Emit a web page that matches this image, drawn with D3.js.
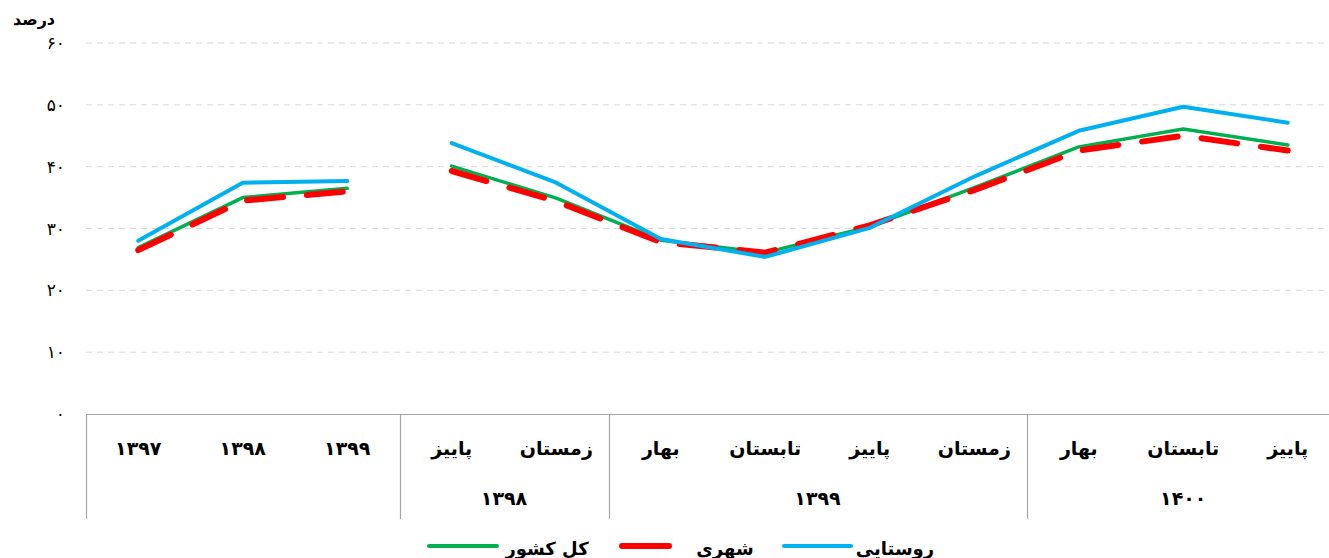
<!DOCTYPE html>
<html><head><meta charset="utf-8">
<script src="https://cdn.jsdelivr.net/npm/d3@7"></script>
<style>
html,body{margin:0;padding:0;background:#fff;}
svg{display:block;}
text{font-family:"DejaVu Sans",sans-serif;}
</style>
</head><body>
<svg id="c" width="1329" height="558"></svg>
<script>
// ---- data ----
const categories = ["۱۳۹۷","۱۳۹۸","۱۳۹۹","پاییز","زمستان","بهار","تابستان","پاییز","زمستان","بهار","تابستان","پاییز"];
const groupLabels = ["","","","۱۳۹۸","۱۳۹۸","۱۳۹۹","۱۳۹۹","۱۳۹۹","۱۳۹۹","۱۴۰۰","۱۴۰۰","۱۴۰۰"];
const segments = [0,0,0,1,1,1,1,1,1,1,1,1];
const totalValues = [26.9,35.0,36.5,40.1,34.9,28.1,26.1,30.3,36.6,43.2,46.1,43.5];
const urbanValues = [26.5,34.5,36.0,39.3,34.4,27.8,26.1,30.5,36.2,42.6,45.0,42.6];
const ruralValues = [28.0,37.4,37.7,43.8,37.4,28.3,25.4,30.1,38.4,45.8,49.7,47.1];
const yTicks = [0,10,20,30,40,50,60];
const yTickLabels = ["۰","۱۰","۲۰","۳۰","۴۰","۵۰","۶۰"];
const yTitle = "درصد";
const seriesNames = ["کل کشور","شهری","روستایی"];

const svg = d3.select("#c");
const x = d3.scaleBand().domain(d3.range(categories.length)).range([86,1340]).padding(0);
const y = d3.scaleLinear().domain([0,60]).range([414,43]);

// grid
svg.append("g").selectAll("line").data(yTicks.filter(t=>t>0)).join("line")
  .attr("x1",86).attr("x2",1329)
  .attr("y1",d=>y(d)).attr("y2",d=>y(d))
  .attr("stroke","#d6d6d6").attr("stroke-width",1).attr("stroke-dasharray","6,5");

// y ticks labels
svg.append("g").selectAll("text").data(yTicks).join("text")
  .attr("x",65).attr("y",d=>y(d)+6)
  .attr("text-anchor","end").attr("font-size",17).attr("fill","#000")
  .text((d,i)=>yTickLabels[i]);
svg.append("text").attr("x",34).attr("y",25).attr("text-anchor","middle")
  .attr("font-size",16).attr("font-weight","bold").text(yTitle);

// category table
const tg = svg.append("g");
tg.append("line").attr("x1",86).attr("x2",1340).attr("y1",414.5).attr("y2",414.5)
  .attr("stroke","#a6a6a6").attr("stroke-width",1.2);
const bounds = [0];
for(let i=1;i<categories.length;i++){ if(groupLabels[i]!==groupLabels[i-1]) bounds.push(i); }
tg.selectAll("line.v").data(bounds).join("line").attr("class","v")
  .attr("x1",d=>Math.round(x(d))+0.5).attr("x2",d=>Math.round(x(d))+0.5)
  .attr("y1",414).attr("y2",519)
  .attr("stroke","#a6a6a6").attr("stroke-width",1.2);
tg.selectAll("text.cat").data(categories).join("text").attr("class","cat")
  .attr("x",(d,i)=>x(i)+x.bandwidth()/2).attr("y",455)
  .attr("text-anchor","middle").attr("font-size",19).attr("font-weight","bold")
  .text(d=>d);
const groups = [];
bounds.forEach((b,k)=>{ const e = (k+1<bounds.length?bounds[k+1]:categories.length); groups.push({label:groupLabels[b],s:b,e:e}); });
tg.selectAll("text.grp").data(groups.filter(g=>g.label)).join("text").attr("class","grp")
  .attr("x",g=>(x(g.s)+x(g.e-1)+x.bandwidth())/2).attr("y",505)
  .attr("text-anchor","middle").attr("font-size",19).attr("font-weight","bold")
  .text(g=>g.label);

// lines
const series = [
  {name:seriesNames[0], values: totalValues, color:"#00B050", width:3.5, dash:null},
  {name:seriesNames[1], values: urbanValues, color:"#FF0000", width:6, dash:"36,24"},
  {name:seriesNames[2], values: ruralValues, color:"#00B0F0", width:4, dash:null}
];
const line = d3.line().x(d=>x(d.i)+x.bandwidth()/2).y(d=>y(d.v));
const segIds = Array.from(new Set(segments));
series.forEach(s=>{
  segIds.forEach(sid=>{
    const pts = s.values.map((v,i)=>({v,i})).filter(p=>segments[p.i]===sid);
    svg.append("path").attr("d",line(pts)).attr("fill","none")
      .attr("stroke",s.color).attr("stroke-width",s.width)
      .attr("stroke-linecap","round").attr("stroke-linejoin","round")
      .attr("stroke-dasharray",s.dash);
  });
});

// legend
const legend = [
  {s:series[0], x1:429, x2:497, tx:547},
  {s:series[1], x1:622, x2:669, tx:725},
  {s:series[2], x1:784, x2:851, tx:895}
];
const lg = svg.append("g");
legend.forEach(l=>{
  lg.append("line").attr("x1",l.x1).attr("x2",l.x2).attr("y1",546).attr("y2",546)
    .attr("stroke",l.s.color).attr("stroke-width",l.s===series[1]?6:4).attr("stroke-linecap","round");
  lg.append("text").attr("x",l.tx).attr("y",555).attr("text-anchor","middle")
    .attr("font-size",18).attr("font-weight","bold").text(l.s.name);
});
</script>
</body></html>
